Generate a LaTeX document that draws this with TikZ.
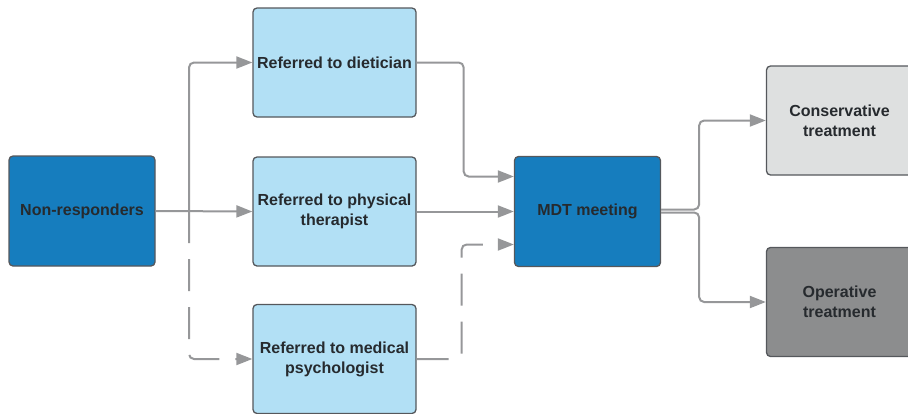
\documentclass[tikz,border=0pt]{standalone}
\usepackage{fontspec}
\setmainfont{Liberation Sans}
\usepackage{tikz}
\definecolor{darkblue}{RGB}{22, 125, 190}
\definecolor{lightblue}{RGB}{178, 224, 245}
\definecolor{lightgray}{RGB}{222, 224, 224}
\definecolor{midgray}{RGB}{140, 141, 142}
\definecolor{edgegray}{RGB}{85, 88, 92}
\definecolor{linegray}{RGB}{150, 151, 153}
\definecolor{txt}{RGB}{38, 42, 46}
\usetikzlibrary{arrows.meta}

\begin{document}
\begin{tikzpicture}
			[x=1pt,y=-1pt,
			box/.style={rectangle, rounded corners=4pt, draw=edgegray, line width=1.3pt, text=txt, align=center, font=\fontsize{16}{20}\selectfont\bfseries, inner sep=2pt},
			darkbox/.style={box, fill=darkblue, minimum width=146pt, minimum height=110pt},
			lightbox/.style={box, fill=lightblue, minimum width=163pt, minimum height=109pt},
			link/.style={draw=linegray, line width=2pt, rounded corners=5pt, -{Triangle[length=16pt,width=12pt]}},
			dashlink/.style={link, dash pattern=on 32pt off 16pt}]
			\useasboundingbox (0,0) rectangle (908,413);
			\node (nonresp) [darkbox] at (82, 211) {Non-responders};
			\node (diet) [lightbox] at (334.5, 62.5) {Referred to dietician};
			\node (physio) [lightbox] at (334.5, 211.5) {Referred to physical\\therapist};
			\node (psych) [lightbox] at (334.5, 359) {Referred to medical\\psychologist};
			\node (mdt) [darkbox] at (587.5, 211.5) {MDT meeting};
			\node (cons) [box, fill=lightgray, minimum width=146pt, minimum height=109pt] at (839.5, 120.5) {Conservative\\treatment};
			\node (oper) [box, fill=midgray, minimum width=146pt, minimum height=109pt] at (839.5, 302) {Operative\\treatment};
			\coordinate (split) at (189, 211);
			\draw [dashlink] (split) |- (psych.west);
			\draw [link] (split) |- (diet.west);
			\draw [link] (nonresp.east) -- (physio.west);
			\draw [link] (diet.east) -- ++(47,0) |- ([yshift=35pt]mdt.west);
			\draw [link] (physio.east) -- (mdt.west);
			\draw [dashlink] (psych.east) -- ++(45,0) |- ([yshift=-33pt]mdt.west);
			\draw [link] ([yshift=2pt]mdt.east) -- ++(38,0) |- (cons.west);
			\draw [link] ([yshift=-1pt]mdt.east) -- ++(38,0) |- (oper.west);
	\end{tikzpicture}
\end{document}
